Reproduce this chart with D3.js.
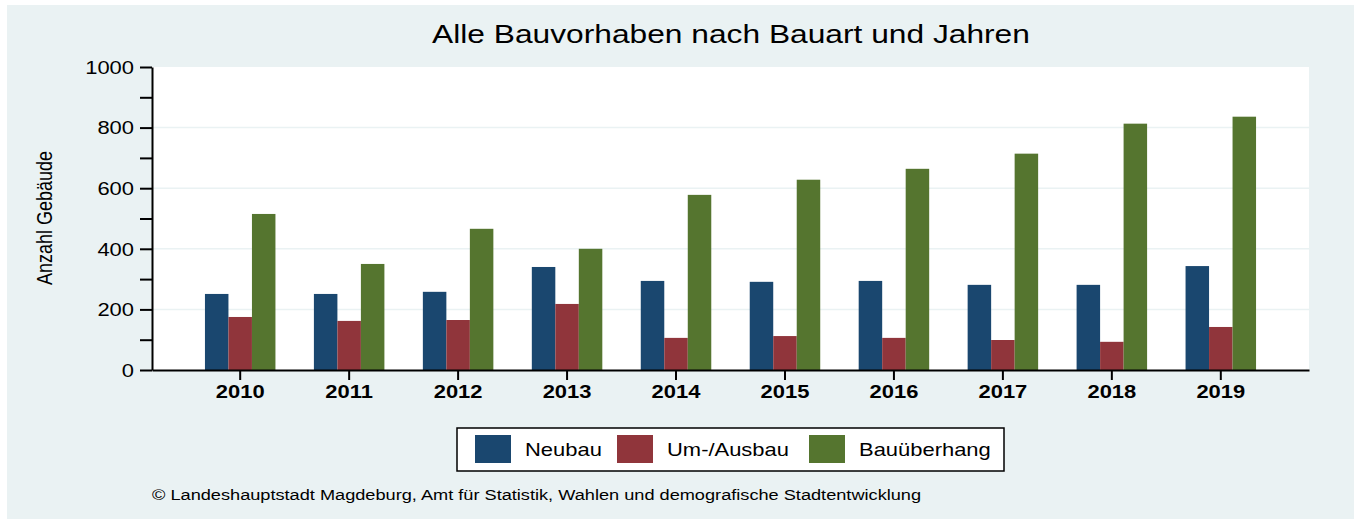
<!DOCTYPE html>
<html>
<head>
<meta charset="utf-8">
<script src="https://cdn.jsdelivr.net/npm/d3@7"></script>
<style>
  body { margin: 0; background: #fff; }
  text { font-family: "Liberation Sans", Arial, sans-serif; fill: #000; }
</style>
</head>
<body>
<svg></svg>
<script>
var years = ['2010', '2011', '2012', '2013', '2014', '2015', '2016', '2017', '2018', '2019'];
var seriesNames = ['Neubau', 'Um-/Ausbau', 'Bauüberhang'];
var neubau = [251, 251, 258, 340, 294, 291, 294, 281, 281, 343];
var umAusbau = [175, 162, 165, 218, 106, 112, 106, 99, 93, 142];
var bauueberhang = [515, 350, 466, 400, 578, 628, 664, 714, 813, 836];
var yTicks = [0, 200, 400, 600, 800, 1000];
var yMinorTicks = [100, 300, 500, 700, 900];
var colors = ['#1a476f', '#90353b', '#55752f'];

var width = 1354;
var height = 519;
var margin = { top: 67, right: 45, bottom: 149, left: 152 };
var innerW = width - margin.left - margin.right;
var innerH = height - margin.top - margin.bottom;
var sx = 1.22; // text in the picture is stretched horizontally

var svg = d3.select('svg')
	.attr('width', width)
	.attr('height', height);

// outer panel
svg.append('rect')
	.attr('x', 7).attr('y', 5)
	.attr('width', width - 7).attr('height', height - 5)
	.attr('fill', '#eaf2f3');

var g = svg.append('g')
	.attr('transform', `translate(${margin.left},${margin.top})`);

g.append('rect')
	.attr('width', innerW).attr('height', innerH)
	.attr('fill', '#fff');

var y = d3.scaleLinear()
	.domain([0, 1000])
	.range([innerH, 0]);

var x0 = d3.scaleBand()
	.domain(years)
	.range([0, innerW])
	.paddingInner(0.353)
	.paddingOuter(0.486);

var x1 = d3.scaleBand()
	.domain(seriesNames)
	.range([0, x0.bandwidth()]);

// grid
g.selectAll('.grid')
	.data(yTicks.filter(function(d) { return d > 0 && d < 1000; }))
	.enter().append('line')
	.attr('x1', 0).attr('x2', innerW)
	.attr('y1', function(d) { return y(d); })
	.attr('y2', function(d) { return y(d); })
	.attr('stroke', '#eaf2f3')
	.attr('stroke-width', 1.5);

var data = years.map(function(yr, i) {
	return { year: yr, values: [neubau[i], umAusbau[i], bauueberhang[i]] };
});

var groups = g.selectAll('.grp')
	.data(data)
	.enter().append('g')
	.attr('transform', function(d) { return `translate(${x0(d.year)},0)`; });

groups.selectAll('rect')
	.data(function(d) { return d.values.map(function(v, j) { return { name: seriesNames[j], value: v, j: j }; }); })
	.enter().append('rect')
	.attr('x', function(d) { return x1(d.name); })
	.attr('width', x1.bandwidth())
	.attr('y', function(d) { return y(d.value); })
	.attr('height', function(d) { return innerH - y(d.value); })
	.attr('fill', function(d) { return colors[d.j]; });

// y axis
var yAxis = g.append('g')
	.call(d3.axisLeft(y).tickValues(yTicks).tickSize(12).tickSizeOuter(0).tickFormat(d3.format('d')));
yAxis.select('.domain').attr('stroke-width', 2);
yAxis.selectAll('.tick line').attr('stroke-width', 2);
yAxis.selectAll('.tick text').remove();
yAxis.selectAll('.tick').append('text')
	.attr('transform', 'translate(-18,0) scale(' + sx + ',1)')
	.attr('dy', '0.35em')
	.attr('text-anchor', 'end')
	.style('font-size', '18px')
	.text(function(d) { return d; });

g.append('g')
	.call(d3.axisLeft(y).tickValues(yMinorTicks).tickSize(12).tickFormat(''))
	.call(function(s) {
		s.select('.domain').remove();
		s.selectAll('.tick line').attr('stroke-width', 2);
	});

// x axis
var xAxis = g.append('g')
	.attr('transform', `translate(0,${innerH})`)
	.call(d3.axisBottom(x0).tickSize(10).tickSizeOuter(0));
xAxis.select('.domain').attr('stroke-width', 2);
xAxis.selectAll('.tick line').attr('stroke-width', 2);
xAxis.selectAll('.tick text').remove();
xAxis.selectAll('.tick').append('text')
	.attr('transform', 'translate(0,28) scale(' + sx + ',1)')
	.attr('text-anchor', 'middle')
	.style('font-size', '18px')
	.style('font-weight', 'bold')
	.text(function(d) { return d; });

// title
svg.append('text')
	.attr('transform', 'translate(731,43) scale(' + sx + ',1)')
	.attr('text-anchor', 'middle')
	.style('font-size', '26px')
	.text('Alle Bauvorhaben nach Bauart und Jahren');

// y label
svg.append('text')
	.attr('transform', 'translate(52,218) scale(' + sx + ',1) rotate(-90)')
	.attr('text-anchor', 'middle')
	.style('font-size', '18px')
	.text('Anzahl Gebäude');

// legend
var legend = svg.append('g').attr('transform', 'translate(457,428)');
legend.append('rect')
	.attr('width', 547).attr('height', 43)
	.attr('fill', '#fff')
	.attr('stroke', '#000')
	.attr('stroke-width', 1.5);
var legendX = [18, 160, 352];
var items = legend.selectAll('.item')
	.data(seriesNames)
	.enter().append('g')
	.attr('transform', function(d, i) { return `translate(${legendX[i]},7)`; });
items.append('rect')
	.attr('width', 36).attr('height', 28)
	.attr('fill', function(d, i) { return colors[i]; });
items.append('text')
	.attr('transform', 'translate(50,21) scale(' + sx + ',1)')
	.style('font-size', '18px')
	.text(function(d) { return d; });

// source
svg.append('text')
	.attr('transform', 'translate(152,500) scale(' + sx + ',1)')
	.style('font-size', '14.9px')
	.text('© Landeshauptstadt Magdeburg, Amt für Statistik, Wahlen und demografische Stadtentwicklung');
</script>
</body>
</html>
